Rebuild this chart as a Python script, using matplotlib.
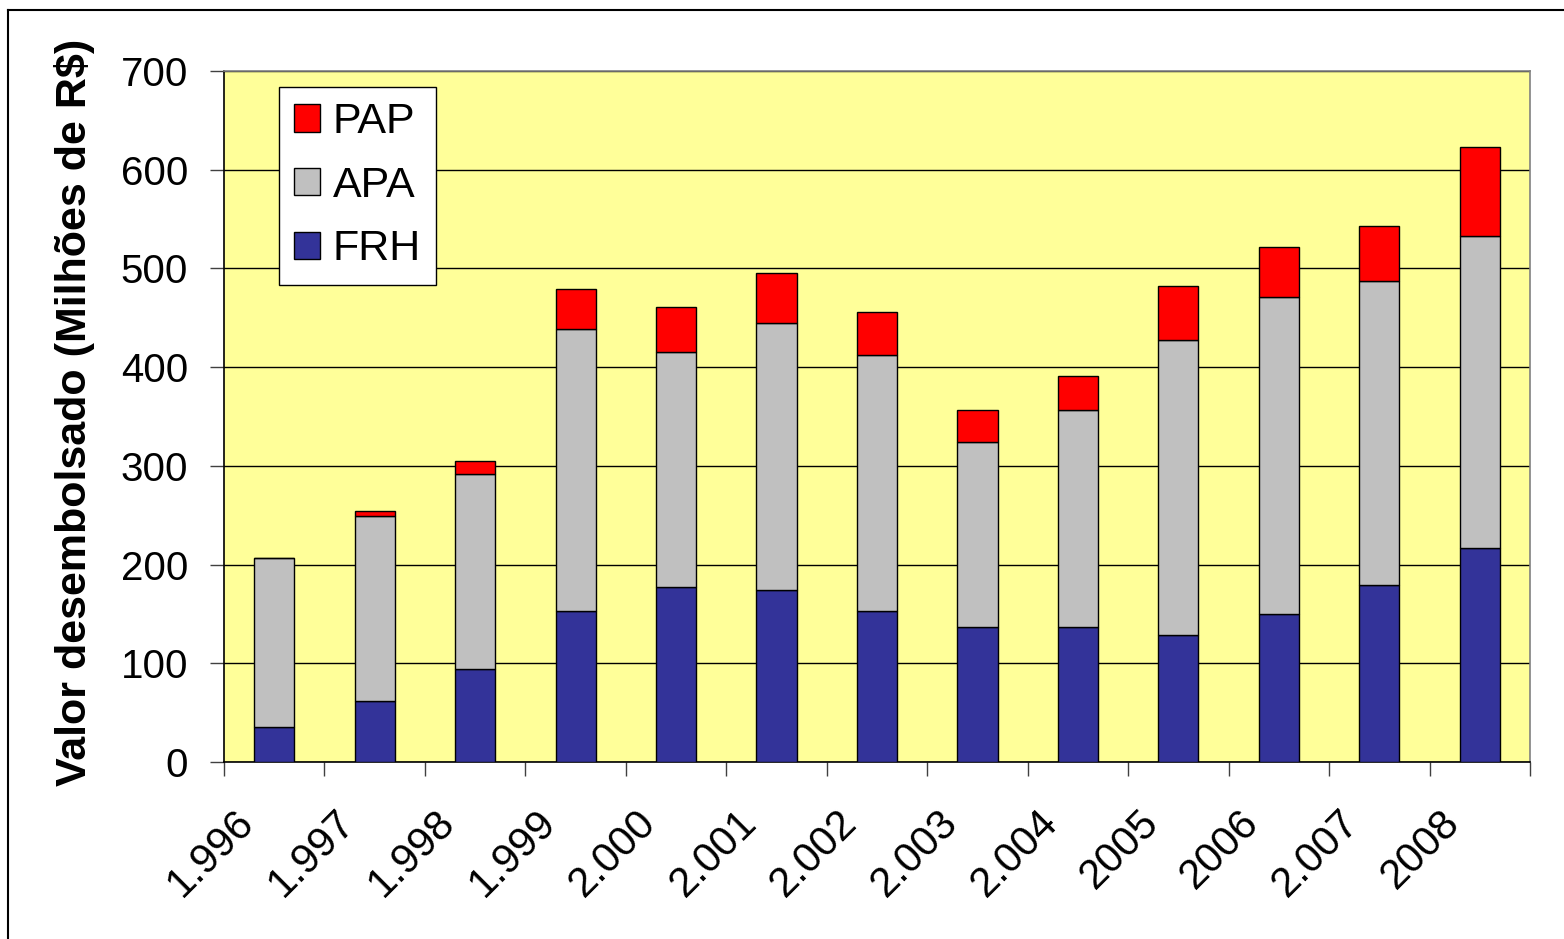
import numpy as np
import matplotlib
matplotlib.use("Agg")
import matplotlib.pyplot as plt
import matplotlib.transforms as mtrans
from matplotlib.lines import Line2D

plt.rcParams['font.family'] = ['Liberation Sans', 'DejaVu Sans']

anos = ['1.996', '1.997', '1.998', '1.999', '2.000', '2.001', '2.002',
        '2.003', '2.004', '2005', '2006', '2.007', '2008']
frh = [35.5, 62.1, 94.3, 153.0, 177.0, 174.3, 153.0, 136.8, 136.8, 129.0, 150.1, 179.1, 216.9]
apa = [171.3, 187.2, 197.6, 285.9, 237.9, 270.3, 259.1, 187.1, 219.3, 299.0, 320.8, 307.7, 315.5]
pap = [0.0, 5.4, 13.5, 40.5, 45.6, 50.6, 43.3, 32.5, 35.1, 54.1, 51.1, 56.6, 91.0]

W, H = 1564, 939
fig = plt.figure(figsize=(W/100, H/100), dpi=100)
ax = fig.add_axes([224/W, 1-762/H, (1530-224)/W, (762-71)/H])
ax.set_facecolor('#FFFF99')

x = np.arange(len(anos))
base2 = np.array(frh) + np.array(apa)
b1 = ax.bar(x, frh, 0.4, color='#333399', edgecolor='black', linewidth=1, zorder=3, label='FRH')
b2 = ax.bar(x, apa, 0.4, bottom=frh, color='#C0C0C0', edgecolor='black', linewidth=1, zorder=3, label='APA')
b3 = ax.bar(x, pap, 0.4, bottom=base2, color='#FF0000', edgecolor='black', linewidth=1, zorder=3, label='PAP')

ax.set_xlim(-0.5, len(anos)-0.5)
ax.set_ylim(0, 700)
ax.set_yticks(range(0, 701, 100))
ax.yaxis.grid(True, color='black', linewidth=1.0, zorder=1)
ax.set_axisbelow(True)

# ticks at category boundaries, labels at centres
ax.set_xticks(np.arange(-0.5, len(anos), 1.0))
ax.set_xticklabels([])
ax.set_xticks(x, minor=True)
ax.set_xticklabels(anos, minor=True, rotation=45, ha='right', va='top', fontsize=30)
ax.tick_params(axis='x', which='major', length=10, width=1, color='#404040', direction='out')
ax.tick_params(axis='x', which='minor', length=0, pad=29)
ax.tick_params(axis='y', length=10, width=1, color='#404040', labelsize=29, pad=16)
off = mtrans.ScaledTranslation(-12/100, 0, fig.dpi_scale_trans)
for lab in ax.get_xticklabels(minor=True):
    lab.set_transform(lab.get_transform() + off)

for s in ['top', 'right']:
    ax.spines[s].set_color('#808080')
for s in ['left', 'bottom']:
    ax.spines[s].set_color('black')
for s in ax.spines.values():
    s.set_linewidth(1.2)

ax.set_ylabel('Valor desembolsado (Milhões de R$)', fontsize=31, fontweight='bold')
ax.yaxis.set_label_coords(-0.099, 0.506)

leg = ax.legend([b3, b2, b1], ['PAP', 'APA', 'FRH'], loc='upper left',
                bbox_to_anchor=(279/W, 1-87/H), bbox_transform=fig.transFigure,
                fontsize=31, frameon=True, fancybox=False, framealpha=1,
                edgecolor='black', handlelength=0.6, handleheight=0.6,
                handletextpad=0.3, labelspacing=0.55, borderpad=0.35, borderaxespad=0)
leg.get_frame().set_linewidth(1.0)
for h in leg.legend_handles:
    h.set_linewidth(1)

# outer chart frame
fig.add_artist(Line2D([8/W, 8/W], [0, 1-10/H], color='black', linewidth=1.5, transform=fig.transFigure))
fig.add_artist(Line2D([8/W, 1], [1-10/H, 1-10/H], color='black', linewidth=1.5, transform=fig.transFigure))

fig.savefig('out.png', dpi=100)
